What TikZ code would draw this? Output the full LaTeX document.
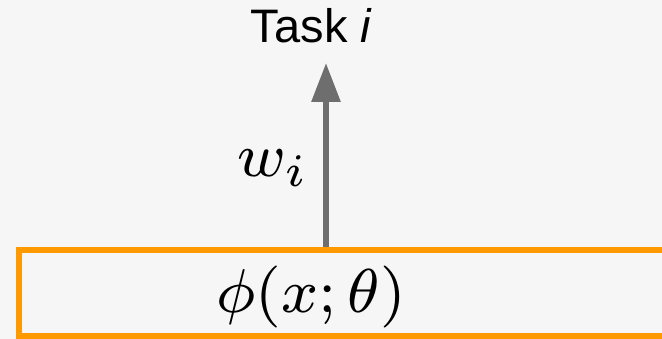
\documentclass[tikz,border=0pt]{standalone}
\usepackage{fontspec}
\setmainfont{Liberation Sans}
\usetikzlibrary{arrows.meta}

\definecolor{bgpaper}{RGB}{246,246,246}
\definecolor{encorange}{RGB}{255,153,0}
\definecolor{arrowgray}{RGB}{110,110,110}

\tikzset{
    encoder/.style={draw=encorange, line width=6pt, minimum width=680pt, minimum height=86pt, inner sep=0pt},
    weight/.style={draw=arrowgray, line width=6pt, -{Triangle[length=39pt,width=28pt]}},
    bigmath/.style={anchor=base, font=\footnotesize, scale=7.75, inner sep=0pt},
}

\begin{document}
\begin{tikzpicture}[x=1pt,y=-1pt]
    \useasboundingbox (0,0) rectangle (662,339);
    \clip (0,0) rectangle (662,339);
    \fill[bgpaper] (0,0) rectangle (662,339);
    \node[encoder] (enc) at (358.7,293) {};
    \node[bigmath] (phi) at (311,313) {$\phi(x;\theta)$};
    \node[anchor=base] (task) at (311.5,43) {\fontsize{47}{47}\selectfont Task \textit{i}};
    \coordinate (tip) at (326,63);
    \draw[weight] (enc.north -| tip) -- (tip);
    \node[bigmath] (wi) at (273,177) {$w_i$};
\end{tikzpicture}
\end{document}
